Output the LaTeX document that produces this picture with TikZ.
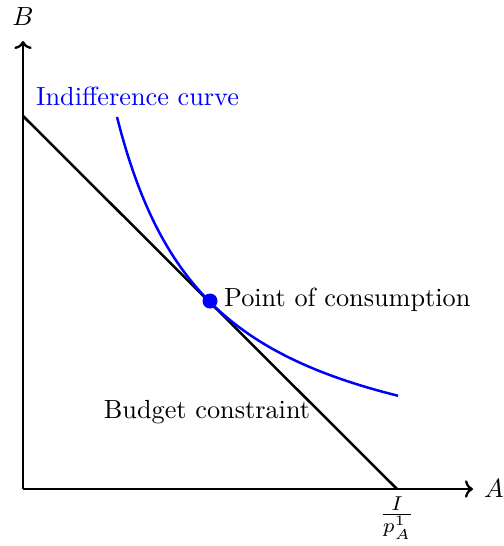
\documentclass[tikz,border=0pt]{standalone}
\usetikzlibrary{arrows.meta}
\begin{document}
\begin{tikzpicture}[x=0.4pt,y=-0.4pt,
  axis/.style={line width=0.9pt,-{To[length=3.2pt,width=7pt]}},
  budget/.style={line width=1pt,black},
  indiff/.style={line width=1pt,blue},
  lbl/.style={inner sep=1pt,scale=1.05}]
\useasboundingbox (0,0) rectangle (503,546);
\coordinate (O) at (23,489);
\coordinate (xend) at (473,489);
\coordinate (yend) at (23,41);
\draw[axis] (O) -- (xend);
\draw[axis] (O) -- (yend);
\node[lbl] (A) at (494,489) {$A$};
\node[lbl] (B) at (23,17) {$B$};
\coordinate (bt) at (23,116);
\coordinate (bb) at (397,489);
\draw[budget] (bt) -- (bb);
\node[inner sep=0pt,anchor=north,scale=1.15] (xi) at (397,496) {$\frac{I}{p^1_A}$};
\draw[indiff] plot[domain=94:375,samples=80,smooth] ({23+\x},{489-187*(187/\x)});
\node[lbl,text=blue,anchor=west] (ic) at (33,96) {Indifference curve};
\node[circle,fill=blue,inner sep=0pt,minimum size=6pt] (P) at (210,301) {};
\node[lbl,anchor=west] (pc) at (221,300) {Point of consumption};
\node[lbl] (bc) at (207,412) {Budget constraint};
\end{tikzpicture}
\end{document}
